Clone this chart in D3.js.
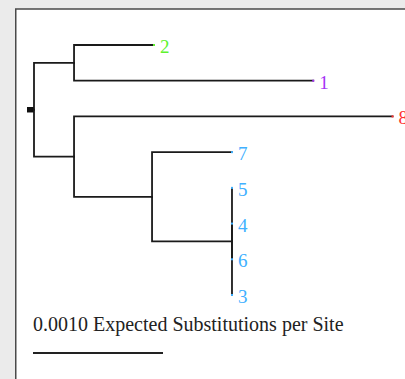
<!DOCTYPE html>
<html><head><meta charset="utf-8">
<script src="https://cdn.jsdelivr.net/npm/d3@7"></script>
<style>html,body{margin:0;padding:0;background:#ebebeb;}svg{display:block;}</style>
</head><body>
<script>
// Tree data (listed in drawing order: children appear top to bottom)
const nodeIds       = ["root", "A", "2", "1", "B", "8", "C", "7", "D", "5", "4", "6", "3"];
const parentIds     = ["", "root", "A", "A", "root", "B", "B", "C", "C", "D", "D", "D", "D"];
const branchLengths = [0, 0.000308, 0.000615, 0.00184, 0.000308, 0.00245, 0.0006, 0.000615, 0.000615, 0, 0, 0, 0];
const leafColors = {"2": "#5ef22e", "1": "#a534f5", "8": "#ff3030", "7": "#40b0ff", "5": "#40b0ff", "4": "#40b0ff", "6": "#40b0ff", "3": "#40b0ff"};
const rootStub = 0.000054;
const scaleBarValue = 0.0010;
const scaleBarLabel = "0.0010 Expected Substitutions per Site";

const W = 405, H = 379;
const svg = d3.select("body").append("svg").attr("width", W).attr("height", H);
svg.append("rect").attr("width", W).attr("height", H).attr("fill", "#ebebeb");
svg.append("rect").attr("x", 15.75).attr("y", 9).attr("width", W).attr("height", H)
  .attr("fill", "#fff").attr("stroke", "#4a4a4a").attr("stroke-width", 1.5);

const table = nodeIds.map((id, i) => ({id, parent: parentIds[i], len: branchLengths[i]}));
const root = d3.stratify().id(d => d.id).parentId(d => d.parent || null)(table);
root.each(n => { n.dist = n.parent ? n.parent.dist + n.data.len : 0; });

const leaves = root.leaves();
const x = d3.scaleLinear().domain([0, scaleBarValue]).range([34, 164]);
const y = d3.scalePoint().domain(leaves.map(d => d.id)).range([45, 295]);
root.eachAfter(n => {
  n.px = x(n.dist);
  if (!n.children) n.py = y(n.id);
  else n.py = (n.children[0].py + n.children[n.children.length - 1].py) / 2;
});

const g = svg.append("g");
// root stub
g.append("line").attr("x1", x(-rootStub)).attr("x2", x(0)).attr("y1", root.py).attr("y2", root.py)
  .attr("stroke", "#111").attr("stroke-width", 5.5);
// branches
g.selectAll("path.br").data(root.descendants().filter(n => n.parent)).join("path")
  .attr("class", "br")
  .attr("d", n => `M${n.parent.px},${n.parent.py}V${n.py}H${n.px}`)
  .attr("fill", "none").attr("stroke", "#1a1a1a").attr("stroke-width", 1.8)
  .attr("stroke-linecap", "square");
// tip dots
g.selectAll("rect.tip").data(leaves).join("rect")
  .attr("x", n => n.px - 1).attr("y", n => n.py - 1).attr("width", 2).attr("height", 2)
  .attr("fill", n => leafColors[n.id]);
// labels
g.selectAll("text.lab").data(leaves).join("text")
  .attr("x", n => n.px + 6).attr("y", n => n.py + 8)
  .attr("fill", n => leafColors[n.id])
  .attr("font-family", "'Liberation Serif', 'DejaVu Serif', serif").attr("font-size", 19)
  .text(n => n.id);

// scale bar
const sx = d3.scaleLinear().domain([0, scaleBarValue]).range([33, 163]);
svg.append("text").attr("x", sx(0)).attr("y", 331)
  .attr("font-family", "'Liberation Serif', serif").attr("font-size", 20).attr("fill", "#222")
  .text(scaleBarLabel);
svg.append("line").attr("x1", sx(0)).attr("x2", sx(scaleBarValue)).attr("y1", 353).attr("y2", 353)
  .attr("stroke", "#222").attr("stroke-width", 2);
</script>
</body></html>
